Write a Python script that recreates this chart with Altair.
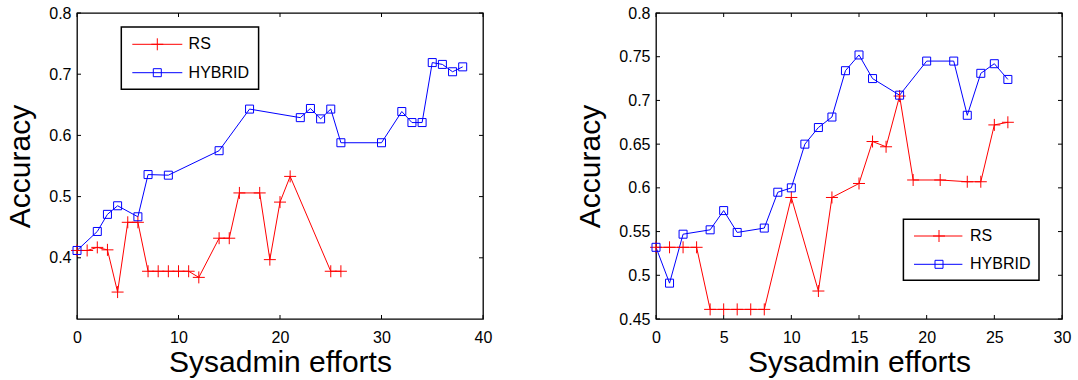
import altair as alt
import pandas as pd

SERIES = ["RS", "HYBRID"]
COLORS = ["#ff0000", "#0000ff"]
FONT = "Liberation Sans"
PLUS = "M-1,0L1,0M0,-1L0,1"

# ---- left panel data ----
left_rs_x = [0, 1, 2, 3, 4, 5, 6, 7, 8, 9, 10, 11, 12, 14, 15, 16, 18, 19, 20, 21, 25, 26]
left_rs_y = [0.412, 0.412, 0.417, 0.413, 0.344, 0.458, 0.458, 0.378, 0.378, 0.378, 0.378,
             0.378, 0.368, 0.432, 0.432, 0.506, 0.506, 0.397, 0.491, 0.533, 0.378, 0.378]
left_hy_x = [0, 2, 3, 4, 6, 7, 9, 14, 17, 22, 23, 24, 25, 26, 30, 32, 33, 34, 35, 36, 37, 38]
left_hy_y = [0.412, 0.443, 0.471, 0.485, 0.467, 0.536, 0.535, 0.575, 0.643, 0.629, 0.644,
             0.627, 0.643, 0.588, 0.588, 0.639, 0.621, 0.621, 0.719, 0.716, 0.704, 0.712]
left_xticks = [0, 10, 20, 30, 40]
left_yticks = [0.4, 0.5, 0.6, 0.7, 0.8]

# ---- right panel data ----
right_rs_x = [0, 1, 2, 3, 4, 5, 6, 7, 8, 10, 12, 13, 15, 16, 17, 18, 19, 21, 23, 24, 25, 26]
right_rs_y = [0.532, 0.532, 0.532, 0.532, 0.461, 0.461, 0.461, 0.461, 0.461, 0.589, 0.482,
              0.589, 0.605, 0.653, 0.647, 0.705, 0.609, 0.609, 0.607, 0.607, 0.672, 0.675]
right_hy_x = [0, 1, 2, 4, 5, 6, 8, 9, 10, 11, 12, 13, 14, 15, 16, 18, 20, 22, 23, 24, 25, 26]
right_hy_y = [0.532, 0.491, 0.547, 0.552, 0.574, 0.549, 0.554, 0.595, 0.600, 0.650, 0.669,
              0.681, 0.734, 0.752, 0.725, 0.706, 0.745, 0.745, 0.683, 0.731, 0.742, 0.724]
right_xticks = [0, 5, 10, 15, 20, 25, 30]
right_yticks = [0.45, 0.5, 0.55, 0.6, 0.65, 0.7, 0.75, 0.8]

W = 406
H = 306
TICK = 4


def panel(rs_x, rs_y, hy_x, hy_y, xdom, xticks, ydom, yticks, yfmt, leg):
    df = pd.DataFrame({
        "x": rs_x + hy_x,
        "y": rs_y + hy_y,
        "s": [SERIES[0]] * len(rs_x) + [SERIES[1]] * len(hy_x),
    })
    xaxis = alt.Axis(values=xticks, title="Sysadmin efforts", format="d",
                     labelPadding=10, titlePadding=2)
    yaxis = alt.Axis(values=yticks, title="Accuracy", format=yfmt,
                     labelPadding=6, titlePadding=13)
    X = alt.X("x:Q", scale=alt.Scale(domain=xdom, nice=False, zero=False), axis=xaxis)
    Y = alt.Y("y:Q", scale=alt.Scale(domain=ydom, nice=False, zero=False), axis=yaxis)
    color = alt.Color("s:N", scale=alt.Scale(domain=SERIES, range=COLORS), legend=None)

    base = alt.Chart(df)
    lines = base.mark_line(strokeWidth=1).encode(x=X, y=Y, color=color, detail="s:N")
    rs_pts = base.transform_filter(alt.datum.s == SERIES[0]).mark_point(
        shape=PLUS, size=144, filled=False, strokeWidth=1, color=COLORS[0], opacity=1
    ).encode(x=X, y=Y)
    hy_pts = base.transform_filter(alt.datum.s == SERIES[1]).mark_point(
        shape="square", size=64, filled=False, strokeWidth=1, color=COLORS[1], opacity=1
    ).encode(x=X, y=Y)

    xt = alt.Chart(pd.DataFrame({"x": xticks}))
    yt = alt.Chart(pd.DataFrame({"y": yticks}))
    tick_b = xt.mark_rule(color="black", strokeWidth=1).encode(x=X, y=alt.value(H), y2=alt.value(H - TICK))
    tick_t = xt.mark_rule(color="black", strokeWidth=1).encode(x=X, y=alt.value(0), y2=alt.value(TICK))
    tick_l = yt.mark_rule(color="black", strokeWidth=1).encode(y=Y, x=alt.value(0), x2=alt.value(TICK))
    tick_r = yt.mark_rule(color="black", strokeWidth=1).encode(y=Y, x=alt.value(W), x2=alt.value(W - TICK))

    bx0, bx1, by0, by1, lx0, lx1, mx, tx, ly = leg
    box = alt.Chart(pd.DataFrame({"s": SERIES[:1]})).mark_rect(
        fill="white", stroke="black", strokeWidth=1.5
    ).encode(x=alt.value(bx0), x2=alt.value(bx1), y=alt.value(by0), y2=alt.value(by1))
    layers = [tick_b, tick_t, tick_l, tick_r, lines, rs_pts, hy_pts, box]
    shapes = [PLUS, "square"]
    sizes = [144, 64]
    for i, name in enumerate(SERIES):
        d = alt.Chart(pd.DataFrame({"s": [name]}))
        layers.append(d.mark_rule(color=COLORS[i], strokeWidth=1).encode(
            x=alt.value(lx0), x2=alt.value(lx1), y=alt.value(ly[i])))
        layers.append(d.mark_point(shape=shapes[i], size=sizes[i], filled=False,
                                   strokeWidth=1, color=COLORS[i], opacity=1).encode(
            x=alt.value(mx), y=alt.value(ly[i])))
        layers.append(d.mark_text(align="left", baseline="middle", fontSize=16,
                                  font=FONT, color="black").encode(
            x=alt.value(tx), y=alt.value(ly[i]), text="s:N"))
    return alt.layer(*layers).properties(width=W, height=H)


left = panel(left_rs_x, left_rs_y, left_hy_x, left_hy_y, [0, 40], left_xticks,
             [0.3, 0.8], left_yticks, ".1f",
             (44.3, 181.6, 14, 76.3, 55.3, 105.3, 80.3, 111.6, [31.3, 59.7]))
right = panel(right_rs_x, right_rs_y, right_hy_x, right_hy_y, [0, 30], right_xticks,
              [0.45, 0.8], right_yticks, ".2~f",
              (247.4, 383, 206.3, 267.3, 258, 306.4, 283, 314, [223, 251.3]))

chart = alt.hconcat(left, right, spacing=82).properties(
    padding={"left": 5, "top": 4, "right": 0, "bottom": 0},
    background="white",
).configure_view(
    stroke="black", strokeWidth=1.3
).configure_axis(
    domain=False, ticks=False, grid=False,
    labelFont=FONT, labelFontSize=16, labelColor="black",
    titleFont=FONT, titleFontSize=30, titleFontWeight="normal", titleColor="black",
    labelFlush=False, labelOverlap=False,
)

chart.save("out.html", embed_options={"renderer": "svg", "actions": False})
